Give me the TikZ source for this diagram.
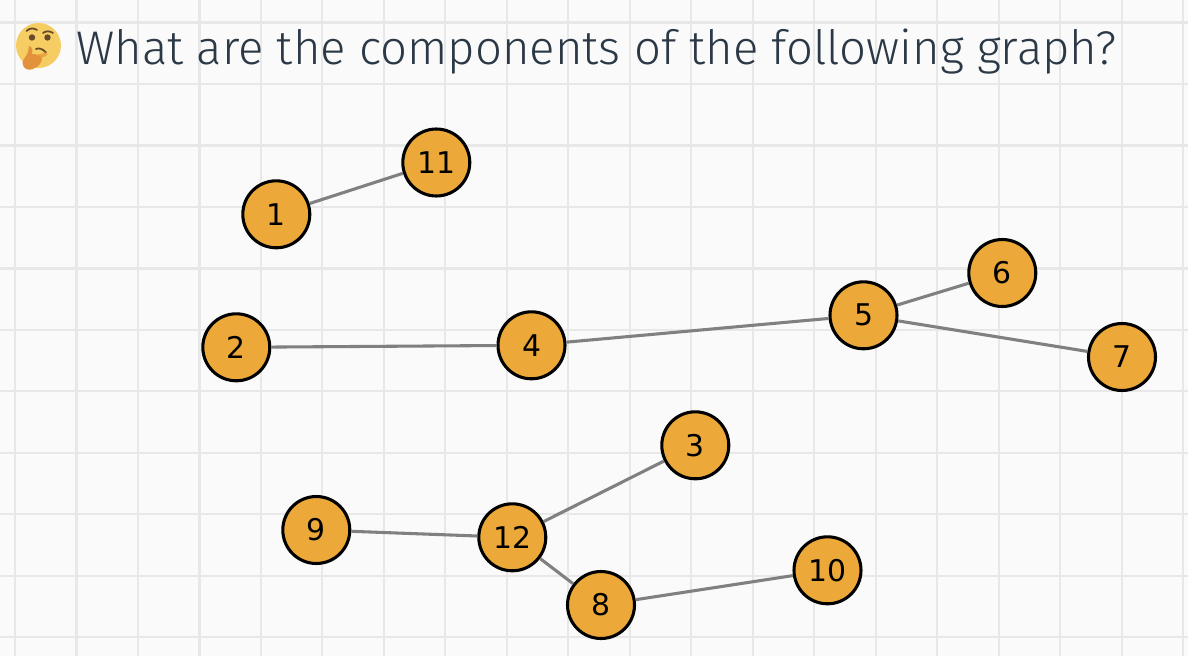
\documentclass[tikz,border=0pt]{standalone}
\usepackage{fontspec}
\setmainfont{Fira Sans Light}
\newfontfamily\labelfont{DejaVu Sans}
\definecolor{paper}{HTML}{FAFAFB}
\definecolor{gridgray}{HTML}{E8E8E9}
\definecolor{titleink}{HTML}{2B3845}
\definecolor{vertexfill}{HTML}{ECA838}
\definecolor{facefill}{HTML}{F5CD62}
\definecolor{handfill}{HTML}{E3923B}
\definecolor{fingerfill}{HTML}{EBA43F}
\definecolor{faceink}{HTML}{664A2A}
\tikzset{
  vertex/.style={circle, draw=black, fill=vertexfill, line width=1.75pt, minimum size=1.34cm, inner sep=0pt, font=\labelfont\fontsize{17}{20}\selectfont},
  link/.style={draw=gray, line width=1.75pt},
  gridline/.style={draw=gridgray, line width=1.2pt}
}
\begin{document}
\begin{tikzpicture}[x=0.02cm, y=-0.02cm]
    % Draw the paper and its grid
    \fill[paper] (0,0) rectangle (1188,656);
    \useasboundingbox (0,0) rectangle (1188,656);
    \begin{scope}[shift={(15,22.5)}]
      \draw[gridline, step=1.23cm] (-15,-22.5) grid (1173,633.5);
    \end{scope}

    % Draw the thinking face
    \fill[facefill] (38.5,45.5) circle (22.5);
    \fill[faceink] (32,37.5) circle (3.2);
    \fill[faceink] (47.5,37.5) circle (3.2);
    \draw[faceink, line width=1pt, line cap=round] (26.5,31) .. controls (30,27.5) and (34,28) .. (37,30);
    \draw[faceink, line width=1pt, line cap=round] (43,33) .. controls (46,30.5) and (50,31) .. (53,33);
    \draw[faceink, line width=1pt, line cap=round] (36,49) .. controls (39,47.5) and (43,49) .. (46,52.5);
    \fill[fingerfill] (32,56) -- (46,52.5) .. controls (48.5,52.5) and (48,55.5) .. (46,56) -- (38,59) -- cycle;
    \fill[handfill] (29,46) .. controls (32,46.5) and (33,50) .. (32,54)
      .. controls (37,54) and (42,56) .. (42,59)
      .. controls (41,64) and (38,67) .. (33,69)
      .. controls (28,71) and (23,69) .. (22.5,63)
      .. controls (22.5,59) and (27,56) .. (28,52) -- cycle;

    % Write the question
    \node[anchor=base west, inner sep=0pt, text=titleink, font=\fontsize{26.9}{32}\selectfont] (question) at (76,64) {What are the components of the following graph?};

    % Draw the vertices
    \node[vertex] (v1) at (276.3,214.3) {1};
    \node[vertex] (v11) at (436.3,162.5) {11};
    \node[vertex] (v2) at (236.3,347.3) {2};
    \node[vertex] (v4) at (531.5,345.3) {4};
    \node[vertex] (v5) at (863.5,315.3) {5};
    \node[vertex] (v6) at (1002.3,273) {6};
    \node[vertex] (v7) at (1122,357) {7};
    \node[vertex] (v3) at (695.3,445.3) {3};
    \node[vertex] (v9) at (316.3,530) {9};
    \node[vertex] (v12) at (512.3,537.3) {12};
    \node[vertex] (v8) at (601,605) {8};
    \node[vertex] (v10) at (827.5,570.3) {10};

    % Draw the edges
    \draw[link] (v1) -- (v11);
    \draw[link] (v2) -- (v4);
    \draw[link] (v4) -- (v5);
    \draw[link] (v5) -- (v6);
    \draw[link] (v5) -- (v7);
    \draw[link] (v9) -- (v12);
    \draw[link] (v12) -- (v3);
    \draw[link] (v12) -- (v8);
    \draw[link] (v8) -- (v10);
\end{tikzpicture}
\end{document}
